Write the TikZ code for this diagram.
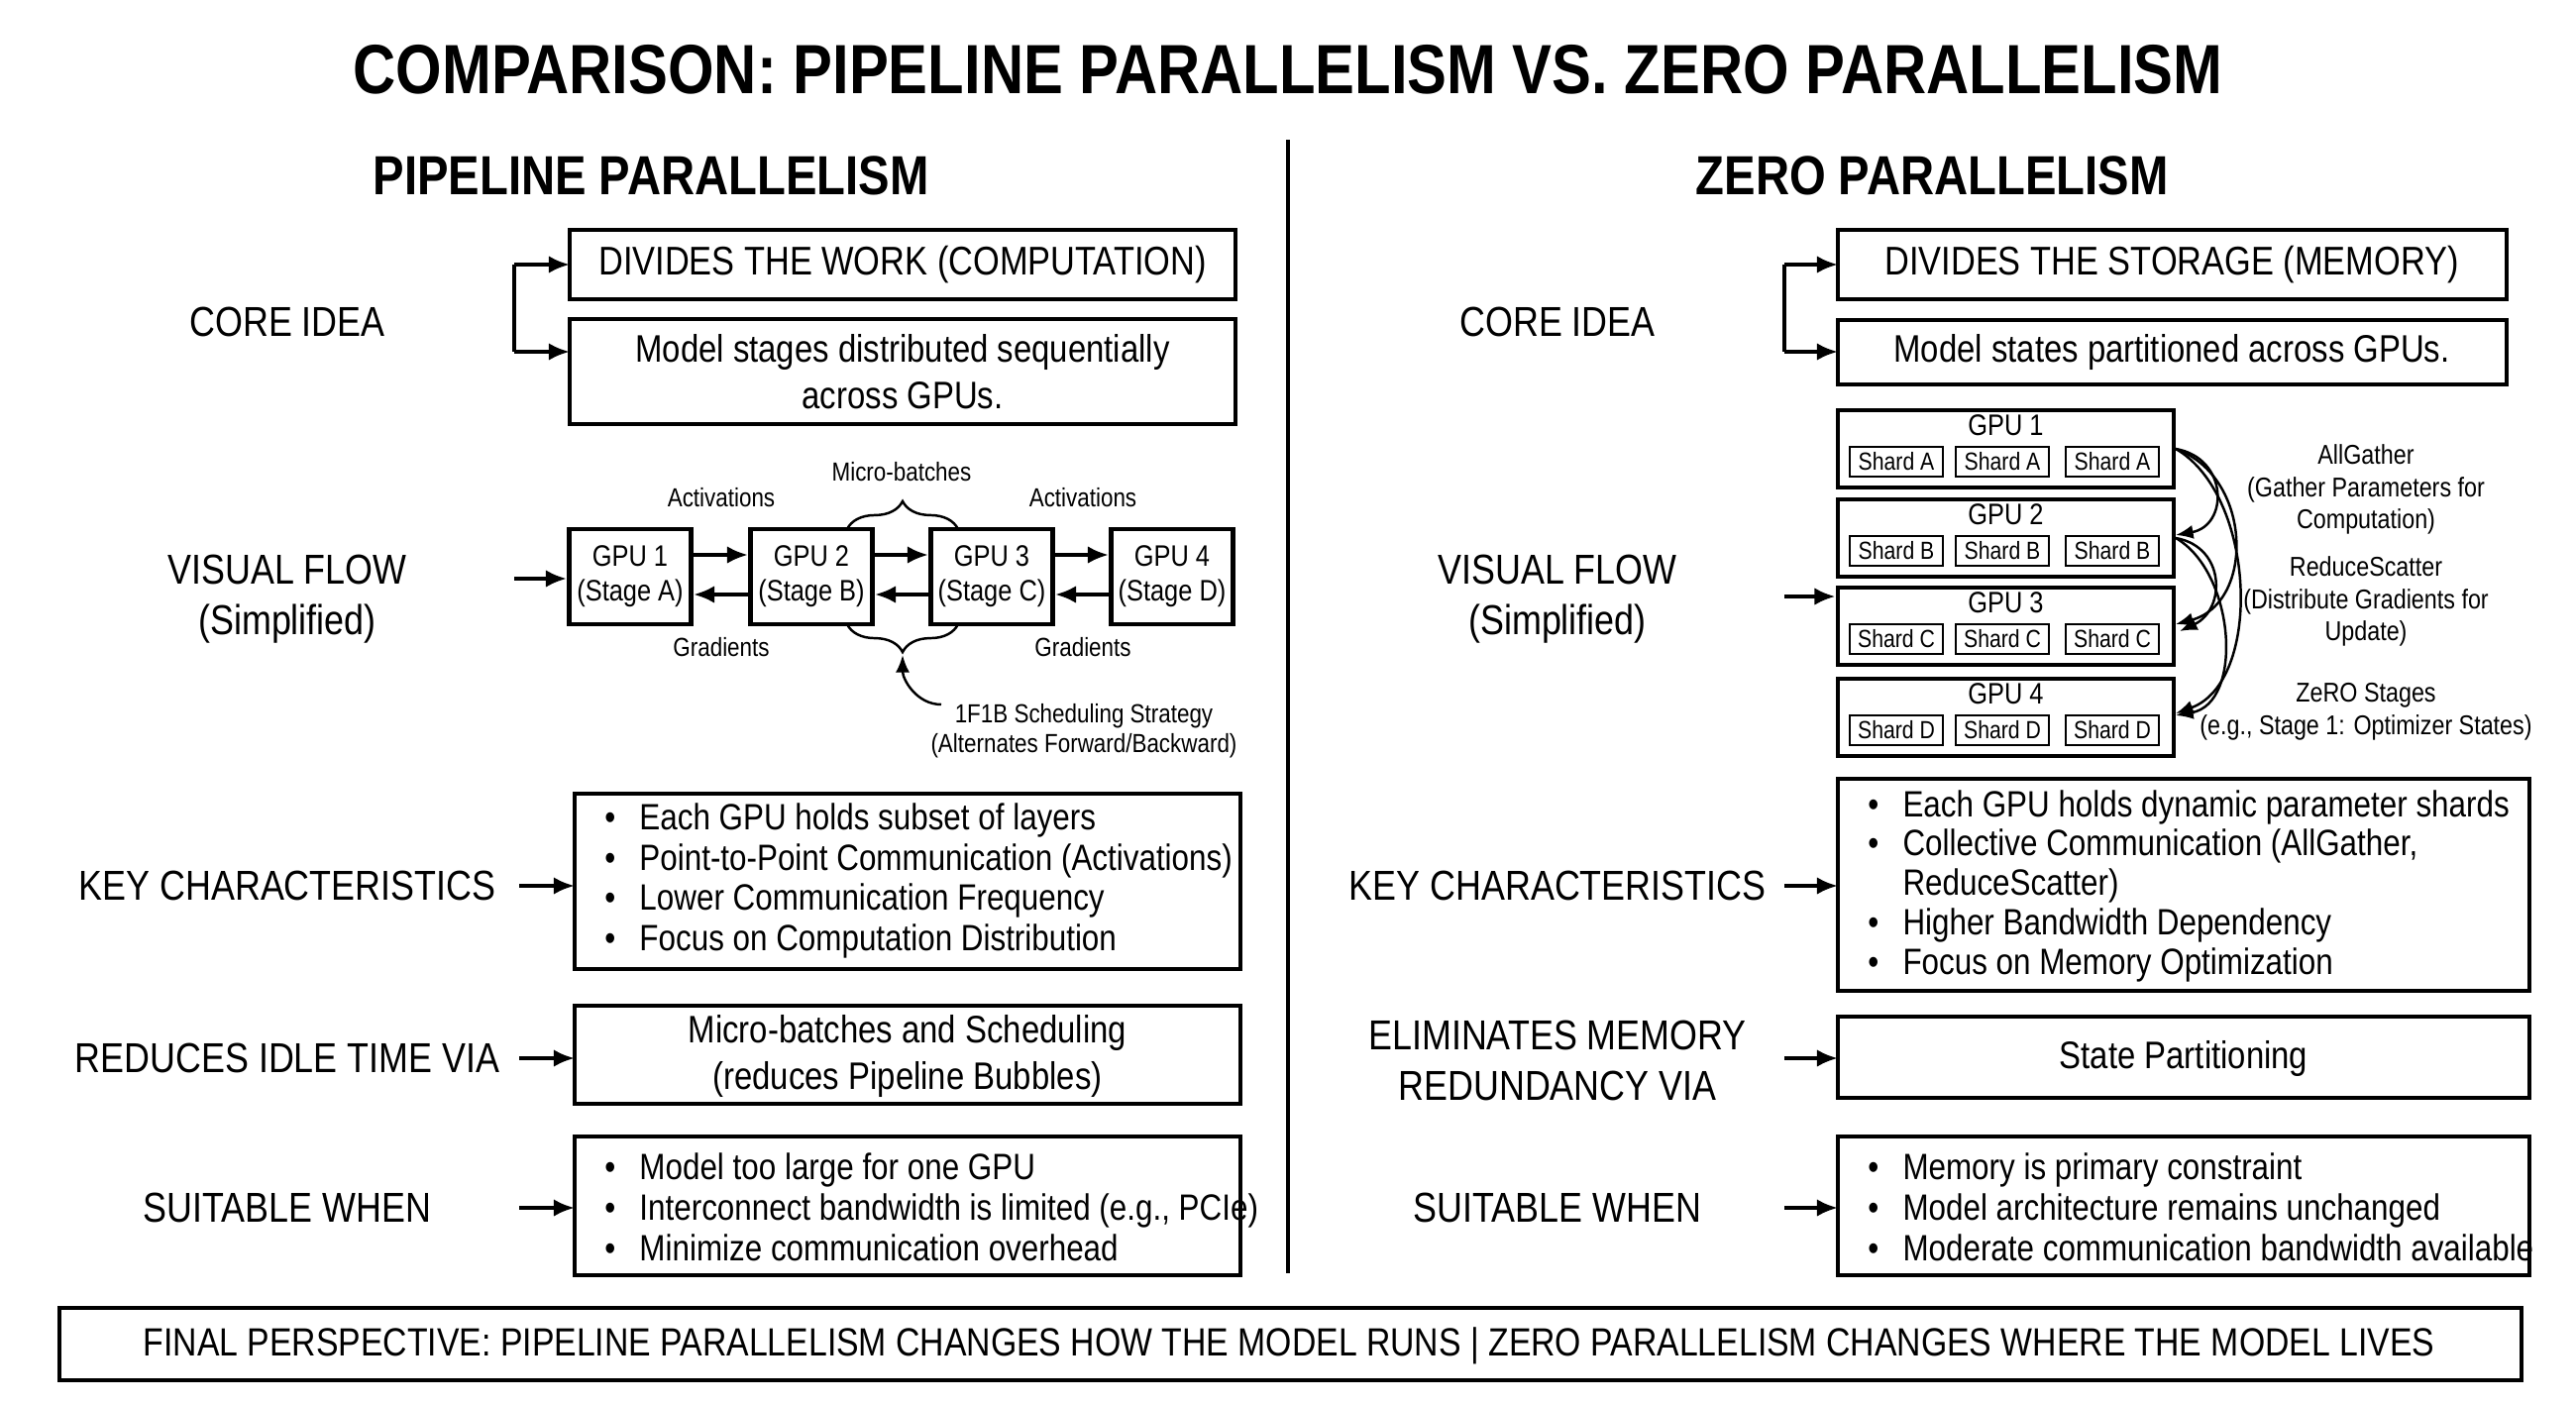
\documentclass[tikz,border=0pt]{standalone}
\usepackage{fontspec}
\setmainfont{Liberation Sans}[FakeStretch=0.85]
\usetikzlibrary{arrows.meta,decorations.pathreplacing,calc}
\begin{document}
\begin{tikzpicture}[x=0.01cm,y=-0.01cm,
  box/.style={draw,line width=1.4pt,inner sep=0pt},
  lbl/.style={font=\fontsize{12}{14.5}\selectfont,align=center},
  btxt/.style={font=\fontsize{11.5}{14}\selectfont,align=center},
  blt/.style={font=\fontsize{10.5}{11.6}\selectfont,align=left,anchor=west},
  sm/.style={font=\fontsize{8.5}{10}\selectfont,align=center},
  tiny/.style={font=\fontsize{7.5}{8.6}\selectfont,align=center},
  arr/.style={-{Latex[length=6pt,width=5pt]},line width=1.1pt},
  thin/.style={-{Latex[length=5pt,width=4pt]},line width=0.7pt}]
\useasboundingbox (0,0) rectangle (2600,1418);
\newcommand{\bl}{\makebox[0.95em][l]{\textbullet}}
% title
\node[font=\fontsize{20}{24}\selectfont\bfseries] (title) at (1300,70) {COMPARISON: PIPELINE PARALLELISM VS. ZERO PARALLELISM};
\draw[line width=1.4pt] (1300,141) coordinate (d1) -- (1300,1285) coordinate (d2);
\node[font=\fontsize{15.8}{18}\selectfont\bfseries] (hl) at (657,177) {PIPELINE PARALLELISM};
\node[font=\fontsize{15.8}{18}\selectfont\bfseries] (hr) at (1950,177) {ZERO PARALLELISM};

% ===== LEFT =====
\node[lbl] (lcore) at (290,325) {CORE IDEA};
\draw[box] (575,232) rectangle (1247,302); \node[btxt] (lb1) at (911,267) {DIVIDES THE WORK (COMPUTATION)};
\draw[box] (575,322) rectangle (1247,428); \node[btxt,font=\fontsize{11}{13.5}\selectfont] (lb2) at (911,375) {Model stages distributed sequentially\\across GPUs.};
\coordinate (lbr1) at (519,267); \coordinate (lbr2) at (519,355);
\draw[line width=1.1pt] (lbr1) -- (lbr2);
\draw[arr] (lbr1) -- (575,267);
\draw[arr] (lbr2) -- (575,355);

\node[lbl] (lvis) at (290,605) {VISUAL FLOW\\(Simplified)};
\foreach \i/\x/\s in {1/636/A,2/819/B,3/1001/C,4/1183/D}{
  \node[box,minimum width=123*0.01cm,minimum height=96*0.01cm,sm] (p\i) at (\x,582) {GPU \i\\(Stage \s)};
}
\coordinate (lin) at (519,584);
\draw[arr] (lin) -- (lin -| p1.west);
\foreach \a/\b in {1/2,2/3,3/4}{
  \draw[arr] ($(p\a.east)+(0,-22)$) -- ($(p\b.west)+(0,-22)$);
  \draw[arr] ($(p\b.west)+(0,18)$) -- ($(p\a.east)+(0,18)$);
}
\node[tiny] (act1) at (728,502) {Activations};
\node[tiny] (act2) at (1093,502) {Activations};
\node[tiny] (grd1) at (728,653) {Gradients};
\node[tiny] (grd2) at (1093,653) {Gradients};
\node[tiny] (mb) at (910,476) {Micro-batches};
\draw[line width=0.7pt,decorate,decoration={brace,amplitude=8pt}] (855,534) -- (967,534);
\draw[line width=0.7pt,decorate,decoration={brace,amplitude=8pt,mirror}] (855,630) -- (967,630);
\node[tiny,anchor=north] (sched) at (1094,698) {1F1B Scheduling Strategy\\(Alternates Forward/Backward)};
\coordinate (bt) at (911,661);
\coordinate (sc) at (950,711);
\draw[thin] (sc) to[out=180,in=-90] (bt);

\node[lbl] (lkey) at (290,894) {KEY CHARACTERISTICS};
\draw[box] (580,801) rectangle (1252,978);
\node[blt] (lk) at (598,889) {\bl Each GPU holds subset of layers\\\bl Point-to-Point Communication (Activations)\\\bl Lower Communication Frequency\\\bl Focus on Computation Distribution};
\draw[arr] (524,894) -- (580,894);

\node[lbl] (lred) at (290,1068) {REDUCES IDLE TIME VIA};
\draw[box] (580,1015) rectangle (1252,1114);
\node[btxt,font=\fontsize{11}{13.2}\selectfont] (lr) at (916,1066) {Micro-batches and Scheduling\\(reduces Pipeline Bubbles)};
\draw[arr] (524,1068) -- (580,1068);

\node[lbl] (lsuit) at (290,1219) {SUITABLE WHEN};
\draw[box] (580,1147) rectangle (1252,1287);
\node[blt] (ls) at (598,1218) {\bl Model too large for one GPU\\\bl Interconnect bandwidth is limited (e.g., PCIe)\\\bl Minimize communication overhead};
\draw[arr] (524,1219) -- (580,1219);

% ===== RIGHT =====
\node[lbl] (rcore) at (1572,325) {CORE IDEA};
\draw[box] (1855,232) rectangle (2530,302); \node[btxt] (rb1) at (2192,267) {DIVIDES THE STORAGE (MEMORY)};
\draw[box] (1855,323) rectangle (2530,388); \node[btxt,font=\fontsize{11}{13.5}\selectfont] (rb2) at (2192,355) {Model states partitioned across GPUs.};
\coordinate (rbr1) at (1801,267); \coordinate (rbr2) at (1801,355);
\draw[line width=1.1pt] (rbr1) -- (rbr2);
\draw[arr] (rbr1) -- (1855,267);
\draw[arr] (rbr2) -- (1855,355);

\node[lbl] (rvis) at (1572,605) {VISUAL FLOW\\(Simplified)};
\foreach \i/\y/\s in {1/453/A,2/543/B,3/632/C,4/724/D}{
  \node[box,minimum width=339*0.01cm,minimum height=78*0.01cm] (g\i) at (2024.5,\y) {};
  \node[sm] (gl\i) at (2024.5,\y-24) {GPU \i};
  \foreach \k/\sx in {1/1914,2/2021,3/2132}{
    \node[draw,line width=0.8pt,minimum width=94*0.01cm,minimum height=30*0.01cm,inner sep=0pt,font=\fontsize{7.1}{8.5}\selectfont] (s\i\k) at (\sx,\y+13) {Shard \s};
  }
}
\coordinate (rin) at (1801,602);
\draw[arr] (rin) -- (rin -| g3.west);
\coordinate (a1) at (2196,453); \coordinate (a2) at (2196,543);
\coordinate (e2) at (2196,540); \coordinate (e3) at (2196,630); \coordinate (e3b) at (2200,637); \coordinate (e4) at (2196,720); \coordinate (e4b) at (2196,722);
\draw[thin] (a1) to[out=-10,in=10,looseness=1.6] (e2);
\draw[thin] (a1) to[out=-20,in=15,looseness=1.2] (e3);
\draw[thin] (a1) to[out=-30,in=20,looseness=0.9] (e4);
\draw[thin] (a2) to[out=-10,in=25,looseness=1.4] (e3b);
\draw[thin] (a2) to[out=-30,in=10,looseness=1.0] (e4b);
\node[font=\fontsize{7.8}{9.3}\selectfont,align=center] (ag) at (2388,494) {AllGather\\(Gather Parameters for\\Computation)};
\node[font=\fontsize{7.8}{9.3}\selectfont,align=center] (rs) at (2388,607) {ReduceScatter\\(Distribute Gradients for\\Update)};
\node[font=\fontsize{7.8}{9.3}\selectfont,align=center] (zs) at (2388,718) {ZeRO Stages\\(e.g., Stage 1: Optimizer States)};

\node[lbl] (rkey) at (1572,894) {KEY CHARACTERISTICS};
\draw[box] (1855,786) rectangle (2553,1000);
\node[blt,font=\fontsize{10.5}{11.3}\selectfont] (rk) at (1873,894) {\bl Each GPU holds dynamic parameter shards\\\bl Collective Communication (AllGather,\\\hspace*{0.95em}ReduceScatter)\\\bl Higher Bandwidth Dependency\\\bl Focus on Memory Optimization};
\draw[arr] (1801,894) -- (1855,894);

\node[lbl] (relim) at (1572,1070) {ELIMINATES MEMORY\\REDUNDANCY VIA};
\draw[box] (1855,1026) rectangle (2553,1108);
\node[btxt,font=\fontsize{11}{13.5}\selectfont] (rel) at (2204,1068) {State Partitioning};
\draw[arr] (1801,1068) -- (1855,1068);

\node[lbl] (rsuit) at (1572,1219) {SUITABLE WHEN};
\draw[box] (1855,1147) rectangle (2553,1287);
\node[blt] (rsu) at (1873,1218) {\bl Memory is primary constraint\\\bl Model architecture remains unchanged\\\bl Moderate communication bandwidth available};
\draw[arr] (1801,1219) -- (1855,1219);

% bottom
\draw[box] (60,1320) rectangle (2545,1393);
\node[font=\fontsize{11.3}{14}\selectfont] (fin) at (1301,1358) {FINAL PERSPECTIVE: PIPELINE PARALLELISM CHANGES HOW THE MODEL RUNS | ZERO PARALLELISM CHANGES WHERE THE MODEL LIVES};
\end{tikzpicture}
\end{document}
